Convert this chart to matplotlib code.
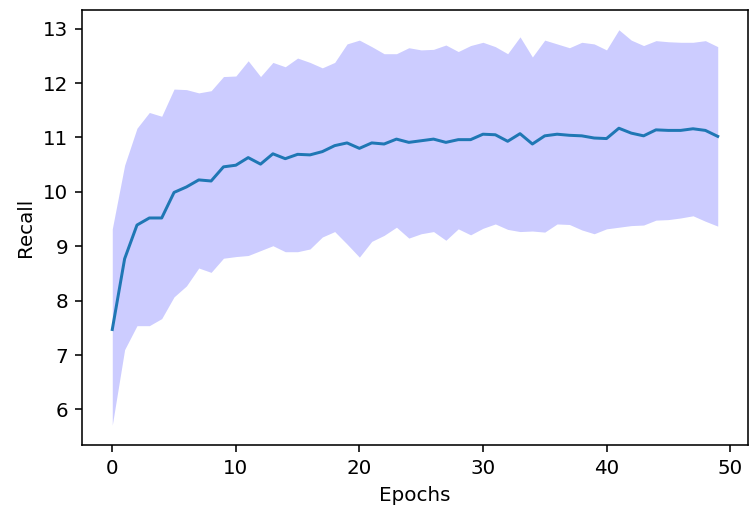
import matplotlib
matplotlib.use("Agg")
import matplotlib.pyplot as plt
import numpy as np

# mean recall per epoch and the band around it
epochs = np.arange(50)
recall_mean = [7.47, 8.77, 9.39, 9.52, 9.52, 9.99, 10.09, 10.22, 10.20, 10.46,
               10.49, 10.63, 10.51, 10.70, 10.61, 10.69, 10.68, 10.74, 10.85, 10.90,
               10.80, 10.90, 10.88, 10.97, 10.91, 10.94, 10.97, 10.91, 10.96, 10.96,
               11.06, 11.05, 10.93, 11.07, 10.88, 11.03, 11.06, 11.04, 11.03, 10.99,
               10.98, 11.17, 11.08, 11.03, 11.14, 11.13, 11.13, 11.16, 11.13, 11.02]
recall_upper = [9.32, 10.49, 11.17, 11.46, 11.39, 11.89, 11.88, 11.82, 11.86, 12.12,
                12.13, 12.41, 12.12, 12.38, 12.30, 12.46, 12.38, 12.28, 12.38, 12.72,
                12.79, 12.67, 12.54, 12.54, 12.65, 12.61, 12.62, 12.70, 12.58, 12.69,
                12.75, 12.67, 12.54, 12.85, 12.48, 12.79, 12.72, 12.65, 12.75, 12.72,
                12.61, 12.98, 12.79, 12.69, 12.78, 12.76, 12.75, 12.75, 12.78, 12.67]
recall_lower = [5.71, 7.10, 7.54, 7.54, 7.67, 8.07, 8.27, 8.60, 8.52, 8.78,
                8.81, 8.83, 8.92, 9.01, 8.90, 8.90, 8.95, 9.17, 9.27, 9.04,
                8.80, 9.09, 9.20, 9.35, 9.15, 9.23, 9.27, 9.11, 9.32, 9.21,
                9.33, 9.41, 9.31, 9.27, 9.28, 9.26, 9.41, 9.40, 9.30, 9.23,
                9.32, 9.35, 9.38, 9.39, 9.48, 9.49, 9.52, 9.56, 9.46, 9.37]

dpi = 143
fig = plt.figure(figsize=(750 / dpi, 508 / dpi), dpi=dpi)
ax = fig.add_axes([82 / 750, 1 - 445 / 508, 666 / 750, 435 / 508])

ax.plot(epochs, recall_mean)
ax.fill_between(epochs, recall_lower, recall_upper, color='blue', alpha=0.2, linewidth=0)

ax.set_xlabel('Epochs')
ax.set_ylabel('Recall')

fig.savefig('out.png', dpi=dpi)
